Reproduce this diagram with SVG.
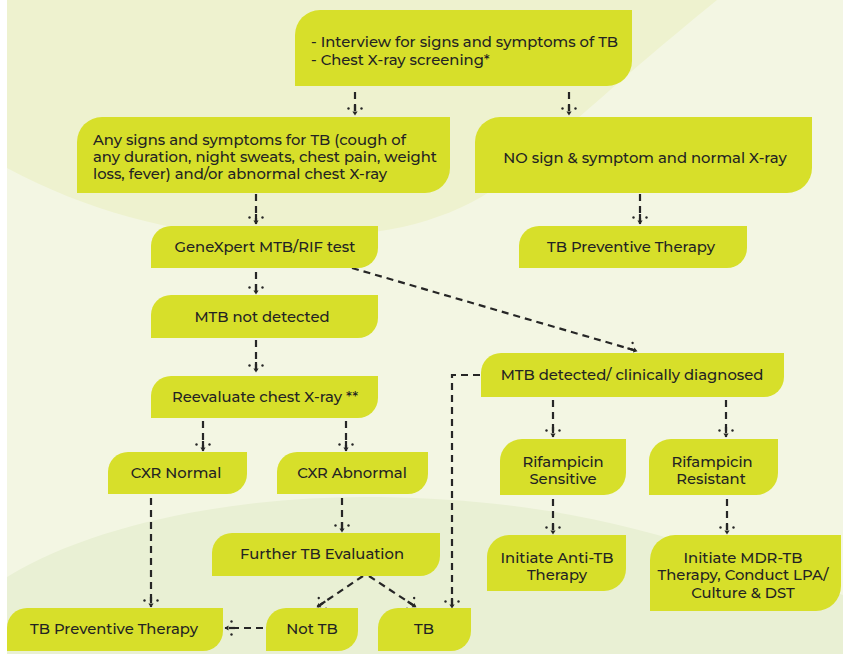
<svg xmlns="http://www.w3.org/2000/svg" width="843" height="658" viewBox="0 0 843 658">
<defs>
<style>
.n{fill:#d7df2a}
.t{font-family:"Montserrat","Noto Sans","Open Sans",sans-serif;font-size:14.8px;fill:#232323;font-weight:500}
.c{text-anchor:middle}
.e{fill:none;stroke:#262626;stroke-width:2.2;stroke-dasharray:7 5}
</style>
<marker id="ah" viewBox="-12 -10 20 20" markerWidth="20" markerHeight="20" markerUnits="userSpaceOnUse" refX="0" refY="0" orient="auto">
<rect x="-11" y="-8" width="11" height="16" fill="none"/>
<path d="M-10,0 H-4" stroke="#262626" stroke-width="2.2"/>
<path d="M0.5,0 L-3.5,-2.6 L-3.5,2.6 Z" fill="#262626"/>
<circle cx="-6.5" cy="-6.5" r="1.2" fill="#262626"/>
<circle cx="-6.5" cy="6.5" r="1.2" fill="#262626"/>
</marker>
</defs>
<rect x="0" y="0" width="843" height="658" fill="#ffffff"/>
<rect x="7" y="0" width="836" height="654" fill="#f3f6e3"/>
<path d="M7,168 C100,218 200,240 300,238 C390,236 450,220 500,185 C540,155 600,95 717,0 H7 Z" fill="#eef2cf"/>
<path d="M7,577 C100,520 250,495 380,497 C500,499 600,515 700,548 C760,568 810,585 843,595 V654 H7 Z" fill="#e9f0d4"/>

<g id="connectors">
<path class="e" d="M355,92 V115" marker-end="url(#ah)"/>
<path class="e" d="M569,92 V115" marker-end="url(#ah)"/>
<path class="e" d="M256,194 V224" marker-end="url(#ah)"/>
<path class="e" d="M640,194 V224" marker-end="url(#ah)"/>
<path class="e" d="M256,272 V294" marker-end="url(#ah)"/>
<path class="e" d="M352,268 L637,351" marker-end="url(#ah)"/>
<path class="e" d="M256,340 V372" marker-end="url(#ah)"/>
<path class="e" d="M480,375 H452 V608" marker-end="url(#ah)"/>
<path class="e" d="M203,421 V451" marker-end="url(#ah)"/>
<path class="e" d="M346,421 V451" marker-end="url(#ah)"/>
<path class="e" d="M151,498 V607" marker-end="url(#ah)"/>
<path class="e" d="M342,498 V532" marker-end="url(#ah)"/>
<path class="e" d="M363,576 L317,607" marker-end="url(#ah)"/>
<path class="e" d="M369,576 L416,607" marker-end="url(#ah)"/>
<path class="e" d="M263,628 H225" marker-end="url(#ah)"/>
<path class="e" d="M553,400 V437" marker-end="url(#ah)"/>
<path class="e" d="M726,400 V437" marker-end="url(#ah)"/>
<path class="e" d="M553,499 V534" marker-end="url(#ah)"/>
<path class="e" d="M727,499 V534" marker-end="url(#ah)"/>
</g>

<g id="n-screen"><path class="n" d="M320,10 H632 V61 A25,25 0 0 1 607,86 H295 V35 A25,25 0 0 1 320,10 Z"/>
<text class="t" x="311" y="47">- Interview for signs and symptoms of TB</text>
<text class="t" x="311" y="65">- Chest X-ray screening*</text></g>

<g id="n-any"><path class="n" d="M102,117 H450 V168 A25,25 0 0 1 425,193 H77 V142 A25,25 0 0 1 102,117 Z"/>
<text class="t" x="93" y="145">Any signs and symptoms for TB (cough of</text>
<text class="t" x="93" y="162">any duration, night sweats, chest pain, weight</text>
<text class="t" x="93" y="179">loss, fever) and/or abnormal chest X-ray</text></g>

<g id="n-no"><path class="n" d="M500,117 H812 V168 A25,25 0 0 1 787,193 H475 V142 A25,25 0 0 1 500,117 Z"/>
<text class="t c" x="645" y="163">NO sign &amp; symptom and normal X-ray</text></g>

<g id="n-gene"><path class="n" d="M171,226 H378 V248 A20,20 0 0 1 358,268 H151 V246 A20,20 0 0 1 171,226 Z"/>
<text class="t c" x="265" y="252">GeneXpert MTB/RIF test</text></g>

<g id="n-tbpt1"><path class="n" d="M539,226 H747 V248 A20,20 0 0 1 727,268 H519 V246 A20,20 0 0 1 539,226 Z"/>
<text class="t c" x="631" y="252">TB Preventive Therapy</text></g>

<g id="n-mtbnot"><path class="n" d="M171,295 H378 V318 A20,20 0 0 1 358,338 H151 V315 A20,20 0 0 1 171,295 Z"/>
<text class="t c" x="262" y="322">MTB not detected</text></g>

<g id="n-mtbdet"><path class="n" d="M501,353 H784 V377 A20,20 0 0 1 764,397 H481 V373 A20,20 0 0 1 501,353 Z"/>
<text class="t c" x="632" y="380">MTB detected/ clinically diagnosed</text></g>

<g id="n-reeval"><path class="n" d="M171,376 H378 V398 A20,20 0 0 1 358,418 H151 V396 A20,20 0 0 1 171,376 Z"/>
<text class="t c" x="265" y="402">Reevaluate chest X-ray **</text></g>

<g id="n-rifs"><path class="n" d="M522,439 H626 V473 A22,22 0 0 1 604,495 H500 V461 A22,22 0 0 1 522,439 Z"/>
<text class="t c" x="563" y="467">Rifampicin</text>
<text class="t c" x="563" y="484">Sensitive</text></g>

<g id="n-rifr"><path class="n" d="M671,439 H778 V473 A22,22 0 0 1 756,495 H649 V461 A22,22 0 0 1 671,439 Z"/>
<text class="t c" x="712" y="467">Rifampicin</text>
<text class="t c" x="711" y="484">Resistant</text></g>

<g id="n-cxrn"><path class="n" d="M128,452 H247 V474 A20,20 0 0 1 227,494 H108 V472 A20,20 0 0 1 128,452 Z"/>
<text class="t c" x="176" y="478">CXR Normal</text></g>

<g id="n-cxra"><path class="n" d="M297,452 H428 V474 A20,20 0 0 1 408,494 H277 V472 A20,20 0 0 1 297,452 Z"/>
<text class="t c" x="352" y="478">CXR Abnormal</text></g>

<g id="n-further"><path class="n" d="M232,533 H440 V556 A20,20 0 0 1 420,576 H212 V553 A20,20 0 0 1 232,533 Z"/>
<text class="t c" x="322" y="559">Further TB Evaluation</text></g>

<g id="n-anti"><path class="n" d="M509,535 H626 V569 A22,22 0 0 1 604,591 H487 V557 A22,22 0 0 1 509,535 Z"/>
<text class="t c" x="557" y="563">Initiate Anti-TB</text>
<text class="t c" x="557" y="580">Therapy</text></g>

<g id="n-mdr"><path class="n" d="M675,535 H841 V586 A25,25 0 0 1 816,611 H650 V560 A25,25 0 0 1 675,535 Z"/>
<text class="t c" x="743" y="563">Initiate MDR-TB</text>
<text class="t c" x="743" y="580">Therapy, Conduct LPA/</text>
<text class="t c" x="743" y="598">Culture &amp; DST</text></g>

<g id="n-tbpt2"><path class="n" d="M27,608 H223 V631 A20,20 0 0 1 203,651 H7 V628 A20,20 0 0 1 27,608 Z"/>
<text class="t c" x="114" y="634">TB Preventive Therapy</text></g>

<g id="n-nottb"><path class="n" d="M286,608 H358 V631 A20,20 0 0 1 338,651 H266 V628 A20,20 0 0 1 286,608 Z"/>
<text class="t c" x="312" y="634">Not TB</text></g>

<g id="n-tb"><path class="n" d="M398,608 H471 V631 A20,20 0 0 1 451,651 H378 V628 A20,20 0 0 1 398,608 Z"/>
<text class="t c" x="424" y="634">TB</text></g>
</svg>
